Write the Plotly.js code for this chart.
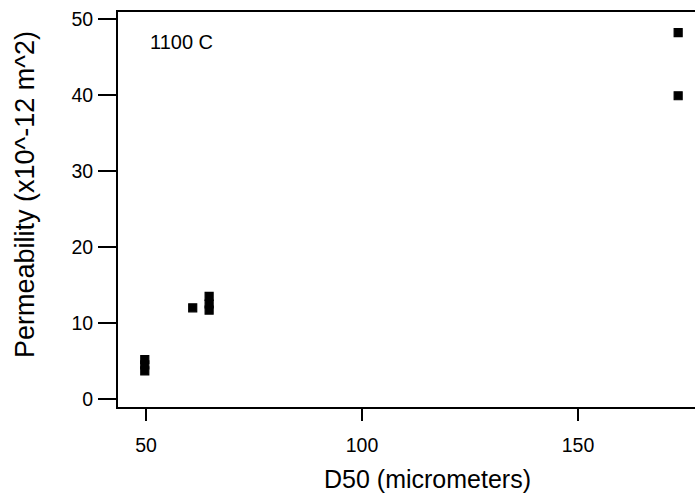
<!DOCTYPE html>
<html>
<head>
<meta charset="utf-8">
<script src="https://cdn.plot.ly/plotly-3.0.1.min.js"></script>
<style>html,body{margin:0;padding:0;background:#fff;}#chart{width:695px;height:496px;}</style>
</head>
<body>
<div id="chart"></div>
<script>
// D50 (micrometers) and permeability (x10^-12 m^2), 1100 C
const d50 = [49.7, 49.7, 49.7, 60.8, 64.6, 64.6, 64.6, 173.2, 173.2];
const permeability = [5.2, 4.5, 3.7, 12.0, 13.5, 12.5, 11.7, 48.2, 39.9];
const xTicks = [50, 100, 150];
const yTicks = [0, 10, 20, 30, 40, 50];
const xTitle = 'D50 (micrometers)';
const yTitle = 'Permeability (x10^-12 m^2)';
const label = '1100 C';

const font = 'Arial, "Liberation Sans", Helvetica, sans-serif';

const trace = {
  x: d50, y: permeability, type: 'scatter', mode: 'markers',
  marker: {symbol: 'square', size: 8, color: '#000', line: {color: '#000', width: 1.2}},
  hoverinfo: 'x+y'
};

const layout = {
  width: 695, height: 496,
  margin: {l: 118, r: 0, t: 12, b: 89},
  paper_bgcolor: '#fff', plot_bgcolor: '#fff',
  showlegend: false,
  font: {family: font, color: '#000', size: 19},
  xaxis: {
    range: [43.5, 177.1], tickvals: xTicks, ticktext: xTicks.map(String),
    ticks: 'outside', ticklen: 12, tickwidth: 2, tickcolor: '#000',
    showline: true, linecolor: '#000', linewidth: 2, mirror: true,
    showgrid: false, zeroline: false, ticklabelstandoff: 8,
    tickfont: {family: font, size: 19.5, color: '#000'}
  },
  yaxis: {
    range: [-1.05, 50.92], tickvals: yTicks, ticktext: yTicks.map(String),
    ticks: 'outside', ticklen: 18, tickwidth: 1.5, tickcolor: '#000',
    showline: true, linecolor: '#000', linewidth: 2,
    showgrid: false, zeroline: false, ticklabelstandoff: 1,
    tickfont: {family: font, size: 19.5, color: '#000'}
  },
  annotations: [
    {text: label, x: 58.3, y: 47.0, xref: 'x', yref: 'y', showarrow: false,
     font: {family: font, size: 20, color: '#000'}},
    {text: xTitle, x: 0.537, y: -0.182, xref: 'paper', yref: 'paper', showarrow: false,
     xanchor: 'center', yanchor: 'middle', font: {family: font, size: 25, color: '#000'}},
    {text: yTitle, x: -0.161, y: 0.537, xref: 'paper', yref: 'paper', showarrow: false,
     textangle: -90, xanchor: 'center', yanchor: 'middle', font: {family: font, size: 27, color: '#000'}}
  ]
};

Plotly.newPlot('chart', [trace], layout, {displayModeBar: false, staticPlot: true});
</script>
</body>
</html>
